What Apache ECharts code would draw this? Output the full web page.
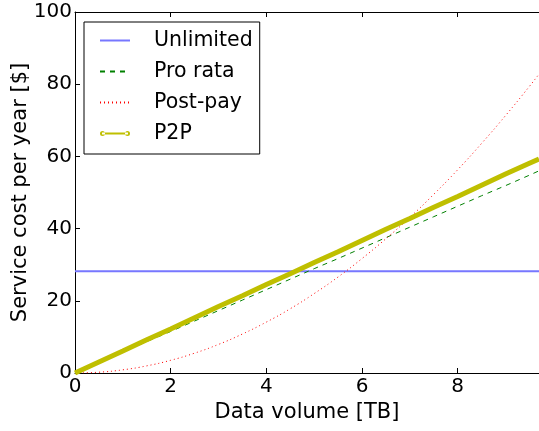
<!DOCTYPE html>
<html>
<head>
<meta charset="utf-8">
<script src="https://cdn.jsdelivr.net/npm/echarts@6/dist/echarts.min.js"></script>
<style>
html, body { margin: 0; padding: 0; background: #fff; }
#main { width: 539px; height: 431px; }
</style>
</head>
<body>
<div id="main"></div>
<script>
// data volume [TB]
var volume = [0, 0.5, 1, 1.5, 2, 2.5, 3, 3.5, 4, 4.5, 5, 5.5, 6, 6.5, 7, 7.5, 8, 8.5, 9, 9.5, 9.7];
// service cost per year [$]
var unlimited = [28.2, 28.2, 28.2, 28.2, 28.2, 28.2, 28.2, 28.2, 28.2, 28.2, 28.2, 28.2, 28.2, 28.2, 28.2, 28.2, 28.2, 28.2, 28.2, 28.2, 28.2];
var proRata = [0, 2.9, 5.8, 8.7, 11.5, 14.4, 17.3, 20.2, 23.1, 26.0, 28.9, 31.7, 34.6, 37.5, 40.4, 43.3, 46.2, 49.1, 51.9, 54.8, 56.0];
var postPay = [0, 0.22, 0.88, 1.98, 3.52, 5.5, 7.92, 10.8, 14.1, 17.8, 22.0, 26.6, 31.7, 37.2, 43.1, 49.5, 56.3, 63.6, 71.3, 79.4, 82.8];
var p2p = [0, 3.05, 6.1, 9.2, 12.2, 15.3, 18.4, 21.4, 24.5, 27.5, 30.6, 33.6, 36.7, 39.8, 42.8, 45.9, 48.9, 52.0, 55.1, 58.1, 59.3];
var seriesNames = ['Unlimited', 'Pro rata', 'Post-pay', 'P2P'];
var xTicks = [0, 2, 4, 6, 8];

function pairs(ys) {
    var out = [];
    for (var i = 0; i < volume.length; i++) {
        out.push([volume[i], ys[i]]);
    }
    return out;
}

var font = 'DejaVu Sans';
var myChart = echarts.init(document.getElementById('main'));

// legend entries: plain lines, P2P gets a dot on each end like matplotlib
var legendData = [
    { name: seriesNames[0], itemStyle: { opacity: 0 } },
    { name: seriesNames[1], itemStyle: { opacity: 0 } },
    { name: seriesNames[2], itemStyle: { opacity: 0 } },
    {
        name: seriesNames[3],
        icon: 'path://M0,0L0,0M30,14L30,14M0,7a2.5,2.5 0 1,0 5,0a2.5,2.5 0 1,0 -5,0ZM25,7a2.5,2.5 0 1,0 5,0a2.5,2.5 0 1,0 -5,0ZM2,6L28,6L28,8L2,8Z',
        itemStyle: { color: '#bfbf00' },
        lineStyle: { width: 0, opacity: 0 }
    }
];

var option = {
    animation: false,
    textStyle: { fontFamily: font },
    grid: { left: 75, right: 0, top: 12, bottom: 58, outerBoundsMode: 'none', containLabel: false },
    legend: {
        orient: 'vertical',
        left: 84,
        top: 22,
        data: legendData,
        backgroundColor: '#fff',
        borderColor: '#000',
        borderWidth: 1,
        borderRadius: 0,
        padding: [7, 7, 9, 15],
        itemWidth: 30,
        itemHeight: 14,
        itemGap: 8,
        textStyle: { fontFamily: font, fontSize: 20.5, color: '#000', lineHeight: 23, padding: [0, 0, 0, 19] }
    },
    xAxis: [
        {
            type: 'value',
            min: 0,
            max: 9.7,
            interval: 2,
            name: 'Data volume [TB]',
            nameLocation: 'middle',
            nameGap: 29,
            nameMoveOverlap: false,
            nameTextStyle: { fontFamily: font, fontSize: 21, color: '#000' },
            axisLine: { show: true, onZero: false, lineStyle: { color: '#000', width: 1 } },
            axisTick: { show: true, inside: true, length: 5, lineStyle: { color: '#000' } },
            axisLabel: {
                fontFamily: font, fontSize: 20, color: '#000', margin: 4, showMaxLabel: false,
                formatter: function (v) { return xTicks.indexOf(v) >= 0 ? String(v) : ''; }
            },
            splitLine: { show: false }
        },
        {
            type: 'value',
            position: 'top',
            min: 0,
            max: 9.7,
            interval: 2,
            axisLine: { show: true, onZero: false, lineStyle: { color: '#000', width: 1 } },
            axisTick: { show: true, inside: true, length: 5, lineStyle: { color: '#000' } },
            axisLabel: { show: false },
            splitLine: { show: false }
        }
    ],
    yAxis: [
        {
            type: 'value',
            min: 0,
            max: 100,
            interval: 20,
            name: 'Service cost per year [$]',
            nameLocation: 'middle',
            nameGap: 44,
            nameMoveOverlap: false,
            nameTextStyle: { fontFamily: font, fontSize: 21, color: '#000' },
            axisLine: { show: true, lineStyle: { color: '#000', width: 1 } },
            axisTick: { show: true, inside: true, length: 5, lineStyle: { color: '#000' } },
            axisLabel: { fontFamily: font, fontSize: 20, color: '#000', margin: 3 },
            splitLine: { show: false }
        }
    ],
    series: [
        {
            name: seriesNames[0], type: 'line', data: pairs(unlimited),
            symbol: 'none', color: '#7777ff',
            lineStyle: { color: '#7777ff', width: 2 }
        },
        {
            name: seriesNames[1], type: 'line', data: pairs(proRata),
            symbol: 'none', color: '#008000',
            lineStyle: { color: '#008000', width: 1, type: [5, 5] }
        },
        {
            name: seriesNames[2], type: 'line', data: pairs(postPay), smooth: true,
            symbol: 'none', color: '#ff0000',
            lineStyle: { color: '#ff0000', width: 1, type: [1, 3] }
        },
        {
            name: seriesNames[3], type: 'line', data: pairs(p2p),
            symbol: 'circle', symbolSize: 5, showSymbol: false, color: '#bfbf00',
            lineStyle: { color: '#bfbf00', width: 5 }
        }
    ]
};

myChart.setOption(option);
</script>
</body>
</html>
